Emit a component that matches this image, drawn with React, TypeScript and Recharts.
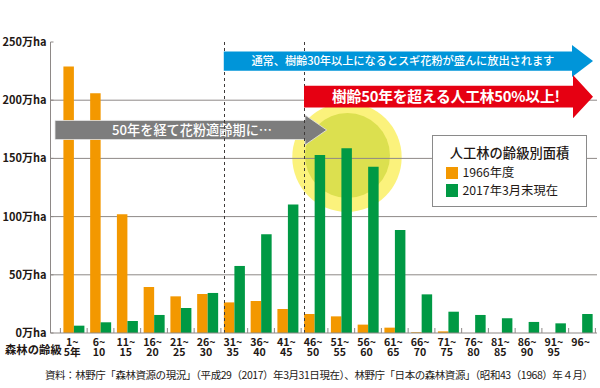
import React from 'react';
import {
  BarChart,
  Bar,
  XAxis,
  YAxis,
  CartesianGrid,
  ReferenceLine,
  ReferenceArea,
  ReferenceDot,
  Legend,
} from 'recharts';

// ---------- data ----------
const ageFrom = ['1~', '6~', '11~', '16~', '21~', '26~', '31~', '36~', '41~', '46~', '51~', '56~', '61~', '66~', '71~', '76~', '81~', '86~', '91~', '96~'];
const ageTo = ['5年', '10', '15', '20', '25', '30', '35', '40', '45', '50', '55', '60', '65', '70', '75', '80', '85', '90', '95', ''];
const categories = ageFrom.map((a, i) => a + ageTo[i]);
const area1966 = [229, 206, 102, 39.5, 31.5, 33.5, 26.3, 27.5, 20.6, 16.3, 14.3, 7.2, 4.6, 0.6, 1.4, 0, 0, 0, 0, 0];
const area2017 = [6.3, 9.2, 10.3, 15.5, 21.5, 34.4, 57.6, 84.8, 110.5, 152.9, 158.7, 142.9, 88.5, 33.2, 18.3, 15.5, 12.6, 9.5, 8.3, 16.3];
const yTicks = [0, 50, 100, 150, 200, 250];
const gridValues = [50, 100, 150, 200];
const seriesNames = ['1966年度', '2017年3月末現在'];
const seriesColors = ['#f39800', '#009944'];
const legendTitle = '人工林の齢級別面積';
const xAxisTitle = '森林の齢級';
const yUnit = '万ha';
const sourceNote = '資料：林野庁「森林資源の現況」（平成29（2017）年3月31日現在）、林野庁「日本の森林資源」（昭和43（1968）年４月）';
const arrowTexts = [
  '50年を経て花粉適齢期に…',
  '通常、樹齢30年以上になるとスギ花粉が盛んに放出されます',
  '樹齢50年を超える人工林50%以上!',
];

const data = categories.map((c, i) => ({ age: c, y1966: area1966[i], y2017: area2017[i] }));

// ---------- layout / style ----------
const FONT = "'Noto Sans CJK JP', 'Noto Sans', sans-serif";
const TEXT = '#231815';
const GRID = '#8e8987';
const W = 600;
const H = 388;
const M = { top: 42, right: 3, bottom: 25, left: 0 };
const Y_W = 50.5;
const PAD_L = 9.9;
const PAD_R = 1.6;
const BAND = (W - M.right - M.left - Y_W - PAD_L - PAD_R) / categories.length;
const BAR = 10.5;
const EDGE = (BAND - 2 * BAR) / 2;

const XTick = (props: any) => {
  const { x, y, payload } = props;
  const i = categories.indexOf(payload.value);
  const half = BAND / 2;
  return (
    <g>
      <line x1={x - half} x2={x - half} y1={y} y2={y - 5} stroke={GRID} />
      {i === categories.length - 1 && <line x1={x + half} x2={x + half} y1={y} y2={y - 5} stroke={GRID} />}
      <text x={x - 1.5} textAnchor="middle" fontSize={10.6} fontWeight={700} fill={TEXT} fontFamily={FONT}>
        <tspan x={x - 1.5} y={y + 12.8}>{ageFrom[i]}</tspan>
        {ageTo[i] ? <tspan x={x - 1.5} y={y + 23.4}>{ageTo[i]}</tspan> : null}
      </text>
    </g>
  );
};

const YTick = (props: any) => {
  const { x, y, payload } = props;
  return (
    <g>
      <line x1={x + 4} x2={x + 7} y1={y} y2={y} stroke={GRID} />
      <text x={x} y={y} dy="0.36em" textAnchor="end" fontSize={11} fontWeight={700} fill={TEXT} fontFamily={FONT}>
        {`${payload.value}${yUnit}`}
      </text>
    </g>
  );
};

type ArrowCfg = {
  color: string;
  dxStart: number;
  dxEnd: number;
  head: number;
  body: number;
  text: string;
  textDx: number;
  fontSize: number;
  fontWeight: number;
  textLength: number;
  stroke?: string;
};

const makeArrow = (cfg: ArrowCfg) => (p: any) => {
  const x0 = p.x + cfg.dxStart;
  const tip = p.x + p.width + cfg.dxEnd;
  const cy = p.y + p.height / 2;
  const hh = p.height / 2;
  const bh = cfg.body / 2;
  const hx = tip - cfg.head;
  const pts = `${x0},${cy - bh} ${hx},${cy - bh} ${hx},${cy - hh} ${tip},${cy} ${hx},${cy + hh} ${hx},${cy + bh} ${x0},${cy + bh}`;
  return (
    <g>
      <polygon points={pts} fill={cfg.color} stroke={cfg.stroke || 'none'} strokeWidth={cfg.stroke ? 0.8 : 0} />
      <text
        x={(x0 + hx) / 2 + cfg.textDx}
        y={cy}
        dy="0.36em"
        textAnchor="middle"
        fill="#ffffff"
        fontFamily={FONT}
        fontSize={cfg.fontSize}
        fontWeight={cfg.fontWeight}
        textLength={cfg.textLength}
      >
        {cfg.text}
      </text>
    </g>
  );
};

const grayArrow = makeArrow({ color: '#7d7d7d', dxStart: -5.4, dxEnd: -1.2, head: 21.7, body: 19, text: arrowTexts[0], textDx: 12, fontSize: 13.2, fontWeight: 500, textLength: 160, stroke: '#e6e6e6' });
const blueArrow = makeArrow({ color: '#0095d9', dxStart: EDGE, dxEnd: -2.4, head: 21, body: 19.3, text: arrowTexts[1], textDx: 5, fontSize: 11.3, fontWeight: 500, textLength: 303 });
const redArrow = makeArrow({ color: '#e60012', dxStart: EDGE, dxEnd: -2.4, head: 20, body: 21.7, text: arrowTexts[2], textDx: 7.5, fontSize: 14.8, fontWeight: 700, textLength: 228 });

const dashedShape = (p: any) => {
  const lx = Math.round(p.x1 - BAR) + 0.5;
  return <line x1={lx} x2={lx} y1={p.y1} y2={p.y2} stroke="#3e3a39" strokeWidth={1} strokeDasharray="3 3" />;
};

const circleShape = (p: any) => (
  <g>
    <circle cx={p.cx + 5.7} cy={p.cy} r={54.7} fill="#fbf27c" />
    <circle cx={p.cx + 6.2} cy={p.cy - 1.7} r={42.5} fill="#dce04f" />
  </g>
);

const LegendBox = (props: any) => {
  const payload = props.payload || [];
  return (
    <div
      style={{
        width: 155,
        height: 72,
        boxSizing: 'border-box',
        border: '1px solid #8a8a8a',
        background: '#ffffff',
        fontFamily: FONT,
        color: TEXT,
        position: 'relative',
      }}
    >
      <div style={{ position: 'absolute', top: 7.5, left: 0, right: 0, textAlign: 'center', fontSize: 13.3, fontWeight: 500, lineHeight: '18px', whiteSpace: 'nowrap' }}>
        {legendTitle}
      </div>
      {payload.map((item: any, i: number) => (
        <div
          key={i}
          style={{ position: 'absolute', left: 12.7, top: 30.7 + i * 17.3, display: 'flex', alignItems: 'center', height: 12.5, fontSize: 12.3, lineHeight: '13px', whiteSpace: 'nowrap' }}
        >
          <span style={{ display: 'inline-block', width: 12.5, height: 12.5, background: item.color, marginRight: 4.2 }} />
          <span>{item.value}</span>
        </div>
      ))}
    </div>
  );
};

export default function App() {
  return (
    <div style={{ position: 'relative', width: W, height: H, background: '#ffffff' }}>
      <style>{'body{margin:0;background:#fff}'}</style>
      <BarChart width={W} height={H} data={data} margin={M} barGap={0} barSize={BAR}>
        <ReferenceDot x={categories[10]} y={151} r={55} shape={circleShape} ifOverflow="visible" zIndex={-150} />
        <CartesianGrid vertical={false} stroke={GRID} horizontalValues={gridValues} zIndex={-100} />
        <XAxis
          dataKey="age"
          type="category"
          interval={0}
          tickLine={false}
          tickSize={0}
          tickMargin={0}
          axisLine={{ stroke: GRID }}
          padding={{ left: PAD_L, right: PAD_R }}
          height={30}
          tick={XTick}
        />
        <YAxis
          type="number"
          domain={[0, 250]}
          ticks={yTicks}
          interval={0}
          width={Y_W}
          tickLine={false}
          tickSize={0}
          tickMargin={4}
          axisLine={{ stroke: GRID }}
          tick={YTick}
        />
        <Bar dataKey="y1966" name={seriesNames[0]} fill={seriesColors[0]} isAnimationActive={false} />
        <Bar dataKey="y2017" name={seriesNames[1]} fill={seriesColors[1]} isAnimationActive={false} />
        <ReferenceArea x1={categories[0]} x2={categories[9]} y1={161.5} y2={187.3} shape={grayArrow} ifOverflow="visible" zIndex={350} />
        <ReferenceLine x={categories[6]} shape={dashedShape} ifOverflow="visible" zIndex={360} />
        <ReferenceLine x={categories[9]} shape={dashedShape} ifOverflow="visible" zIndex={360} />
        <ReferenceArea x1={categories[6]} x2={categories[19]} y1={219.9} y2={247.4} shape={blueArrow} ifOverflow="visible" zIndex={370} />
        <ReferenceArea x1={categories[9]} x2={categories[19]} y1={184.5} y2={221.6} shape={redArrow} ifOverflow="visible" zIndex={370} />
        <Legend
          layout="vertical"
          align="center"
          verticalAlign="middle"
          content={LegendBox}
          wrapperStyle={{ left: 432, top: 135, width: 155, height: 72, margin: 0, padding: 0 }}
        />
      </BarChart>
      <svg width={W} height={H} style={{ position: 'absolute', left: 0, top: 0, pointerEvents: 'none' }}>
        <text x={5} y={353.5} fontSize={11.3} fontWeight={700} fill={TEXT} fontFamily={FONT} textLength={56.7}>
          {xAxisTitle}
        </text>
        <text x={45} y={378.5} fontSize={10.5} fill={TEXT} fontFamily={FONT} textLength={548}>
          {sourceNote}
        </text>
      </svg>
    </div>
  );
}
